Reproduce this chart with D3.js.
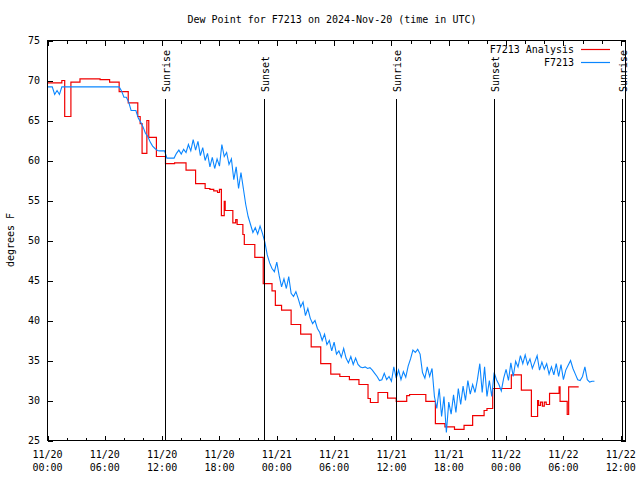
<!DOCTYPE html>
<html><head><meta charset="utf-8">
<script src="https://cdn.jsdelivr.net/npm/d3@7"></script>
<style>
body{margin:0;background:#fff}
svg{display:block}
text{font-family:"DejaVu Sans Mono","Liberation Mono",monospace;font-size:10px;fill:#000}
</style>
</head><body>
<svg id="c" width="640" height="480"></svg>
<script>
// ---------- data ----------
const title = "Dew Point for F7213 on 2024-Nov-20 (time in UTC)";
const yLabel = "degrees F";
const seriesNames = ["F7213 Analysis", "F7213"];
const seriesColors = ["#f00000", "#0a86ff"];
const yTicks = [25, 30, 35, 40, 45, 50, 55, 60, 65, 70, 75];
const startUTC = Date.UTC(2024, 10, 20, 0, 0);   // 11/20 00:00 UTC
const xEndHours = 60.5;
const sunEvents = ["Sunrise", "Sunset", "Sunrise", "Sunset", "Sunrise"];
const sunHours = [12.35, 22.64, 36.46, 46.71, 60.18];

// analysis series (hours since start, degrees F), drawn as steps
const redHours = [0, 1.5, 1.8, 2.45, 3.4, 5.5, 6.5, 7.5, 8.45, 9.45, 9.7, 9.9, 10.4, 10.6, 11.4,
  12.35, 13.3, 14.5, 15.5, 16.5, 17.0, 17.4, 17.8, 18.0, 18.2, 18.5, 18.6, 19.4, 19.7, 19.85,
  20.45, 20.6, 21.7, 22.58, 23.5, 23.85, 24.5, 25.5, 26.5, 27.6, 28.6, 29.65, 30.6, 31.6, 32.6,
  33.55, 33.8, 34.6, 35.6, 36.5, 37.6, 37.9, 39.6, 40.6, 41.6, 42.6, 43.6, 44.5, 45.7, 46.0,
  46.6, 48.55, 49.6, 50.65, 51.3, 51.4, 51.6, 51.8, 52.0, 52.2, 52.55, 53.55, 53.65, 54.4, 54.55, 55.6];
const redValues = [69.7, 70.0, 65.5, 69.8, 70.2, 70.1, 69.8, 68.6, 67.2, 65.5, 64.6, 60.9, 65.0, 62.9, 60.5,
  59.6, 59.7, 58.8, 57.1, 56.5, 56.4, 56.2, 56.0, 56.4, 53.1, 54.9, 53.75, 52.2, 52.6, 52.0,
  50.75, 49.5, 47.9, 44.6, 43.7, 41.9, 41.3, 39.5, 38.3, 36.7, 34.6, 33.3, 33.0, 32.6, 32.0,
  30.25, 29.75, 31.0, 30.3, 29.9, 30.6, 30.75, 29.9, 27.1, 26.7, 26.4, 26.9, 28.1, 28.75, 29.0,
  31.5, 33.2, 31.3, 28.0, 30.0, 29.4, 29.8, 29.3, 29.8, 29.5, 30.9, 31.7, 29.9, 28.25, 31.7, 31.7];

// observed series, one reading every 15 minutes from 11/20 00:00
const blueStartHour = 0, blueStepHours = 0.25;
const blueValues = [
  69.2, 69.2, 69.2, 68.25, 68.75, 68.25, 69.2,
  69.2, 69.2, 69.2, 69.2, 69.2, 69.2, 69.2, 69.2, 69.2, 69.2, 69.2, 69.2,
  69.2, 69.2, 69.2, 69.2, 69.2, 69.2, 69.2, 69.2, 69.2, 69.2, 69.2,
  69.2, 68.7, 67.9, 67.9, 67.3, 66.25, 66.25, 66.25, 65.3, 64.8, 64.2, 63.4,
  63.0, 62.3, 61.8, 61.5, 61.25, 61.2, 61.2, 61.2, 60.3, 60.3, 60.3, 60.3,
  60.9, 61.3, 60.8, 61.4, 61.0, 62.0, 61.2, 62.6, 61.3, 62.4,
  60.6, 61.6, 60.0, 60.9,  59.2, 60.4, 59.0, 60.2,  59.3, 62.0, 60.5, 61.0,
  59.5, 60.2, 57.6, 59.2,  56.5, 58.5, 56.5, 54.5,  53.0, 52.0, 51.0, 51.6,
  50.8, 51.8, 50.9, 49.8,  48.2, 47.2, 46.5, 46.1,  47.3, 45.6, 44.2, 45.2,
  44.0, 45.5, 43.4, 43.0,  43.6, 42.7, 41.7, 42.3,  40.6, 41.5, 40.3, 39.6,
  40.0, 39.0, 38.5, 37.5,  38.3, 37.0, 37.5, 36.2,  37.3, 35.8, 36.2, 35.4,
  36.5, 35.3, 34.7, 35.5,  34.5, 35.3, 34.5, 34.2,  34.1, 34.2, 34.0, 34.1,
  33.8, 33.4, 33.0, 32.5,  32.6, 33.4, 32.6, 33.0,  32.4, 34.2, 32.8, 33.8,
  32.6, 33.6, 32.9, 34.3,  35.2, 36.3, 36.0, 36.4,  35.8, 33.5, 32.8, 34.2,
  33.0, 34.0, 30.5, 29.0,  31.5, 28.0, 30.5, 26.0,  29.8, 28.3, 30.7, 28.5,
  31.5, 29.5, 31.8, 30.0,  32.5, 30.8, 32.0, 31.0,  32.6, 34.6, 31.0, 34.2,
  30.5, 32.5, 30.5, 33.5,  32.6, 32.0, 31.2, 32.8,  33.9, 32.5, 34.7, 33.0,
  34.9, 34.2, 35.6, 34.6,  35.7, 34.5, 35.2, 34.0,  34.8, 35.6, 33.8, 34.8,
  33.9, 34.6, 33.3, 34.2,  33.2, 34.6, 33.0, 34.5,  32.6, 33.8, 34.4, 35.0,
  34.0, 33.3, 32.6, 32.5,  33.0, 34.2, 32.6, 32.3,  32.4, 32.4];

// ---------- drawing ----------
const H = 3600 * 1000;
const toDate = h => new Date(startUTC + h * H);
const L = 47.5, R = 625.5, T = 40.5, B = 440.5;

const svg = d3.select("#c");
const x = d3.scaleUtc().domain([toDate(0), toDate(xEndHours)]).range([L, R]);
const y = d3.scaleLinear().domain([25, 75]).range([B, T]);

const majorX = d3.utcHour.every(6).range(toDate(0), toDate(xEndHours));
const minorX = d3.utcHour.every(2).range(toDate(0), toDate(xEndHours))
  .filter(d => d.getUTCHours() % 6 !== 0);

const fmtDate = d3.utcFormat("%m/%d"), fmtTime = d3.utcFormat("%H:%M");

// bottom axis, ticks pointing inward
svg.append("g").attr("transform", `translate(0,${B})`)
  .call(d3.axisBottom(x).tickValues(majorX).tickSizeInner(-5).tickSizeOuter(0).tickFormat(""));
svg.append("g").attr("transform", `translate(0,${B})`)
  .call(d3.axisBottom(x).tickValues(minorX).tickSizeInner(-3).tickSizeOuter(0).tickFormat(""));
// top mirror
svg.append("g").attr("transform", `translate(0,${T})`)
  .call(d3.axisTop(x).tickValues(majorX).tickSizeInner(-5).tickSizeOuter(0).tickFormat(""));
svg.append("g").attr("transform", `translate(0,${T})`)
  .call(d3.axisTop(x).tickValues(minorX).tickSizeInner(-3).tickSizeOuter(0).tickFormat(""));
// left and right
svg.append("g").attr("transform", `translate(${L},0)`)
  .call(d3.axisLeft(y).tickValues(yTicks).tickSizeInner(-5).tickSizeOuter(0).tickFormat(""));
svg.append("g").attr("transform", `translate(${R},0)`)
  .call(d3.axisRight(y).tickValues(yTicks).tickSizeInner(-5).tickSizeOuter(0).tickFormat(""));
svg.selectAll(".domain").remove();
svg.selectAll(".tick line").attr("stroke", "#000").attr("shape-rendering", "crispEdges");

// tick labels
const xl = svg.append("g");
majorX.forEach(d => {
  xl.append("text").attr("x", x(d)).attr("y", 457.5).attr("text-anchor", "middle").text(fmtDate(d));
  xl.append("text").attr("x", x(d)).attr("y", 471).attr("text-anchor", "middle").text(fmtTime(d));
});
svg.append("g").selectAll("text").data(yTicks).join("text")
  .attr("x", 40).attr("y", d => y(d) + 3.5).attr("text-anchor", "end").text(d => d);

// data clip
svg.append("clipPath").attr("id", "clip").append("rect")
  .attr("x", L).attr("y", T).attr("width", R - L).attr("height", B - T);

const stepLine = d3.line().x(d => x(d.t)).y(d => y(d.v)).curve(d3.curveStepAfter);
const plainLine = d3.line().x(d => x(d.t)).y(d => y(d.v)).curve(d3.curveLinear);
const redData = redHours.map((h, i) => ({t: toDate(h), v: redValues[i]}));
const blueData = blueValues.map((v, i) => ({t: toDate(blueStartHour + i * blueStepHours), v}));

const plot = svg.append("g").attr("clip-path", "url(#clip)");
plot.append("path").datum(redData).attr("d", stepLine)
  .attr("fill", "none").attr("stroke", seriesColors[0]).attr("stroke-width", 1.2);
plot.append("path").datum(blueData).attr("d", plainLine)
  .attr("fill", "none").attr("stroke", seriesColors[1]).attr("stroke-width", 1.1)
  .attr("stroke-linejoin", "miter");

// sunrise / sunset markers
sunHours.forEach((h, i) => {
  const px = Math.round(x(toDate(h))) + 0.5;
  svg.append("line").attr("x1", px).attr("x2", px).attr("y1", 99).attr("y2", B)
    .attr("stroke", "#000").attr("stroke-width", 1).attr("shape-rendering", "crispEdges");
  svg.append("text").attr("transform", `translate(${px + 4},92) rotate(-90)`)
    .attr("text-anchor", "start").text(sunEvents[i]);
});

// frame
svg.append("rect").attr("x", L).attr("y", T).attr("width", R - L).attr("height", B - T)
  .attr("fill", "none").attr("stroke", "#000").attr("stroke-width", 1).attr("shape-rendering", "crispEdges");

// legend
seriesNames.forEach((n, i) => {
  const yy = 49.5 + i * 13;
  svg.append("text").attr("x", 574).attr("y", yy + 3.5).attr("text-anchor", "end").text(n);
  svg.append("line").attr("x1", 581).attr("x2", 610).attr("y1", yy).attr("y2", yy)
    .attr("stroke", seriesColors[i]).attr("stroke-width", 1.2);
});

// title and y label
svg.append("text").attr("x", 332).attr("y", 23).attr("text-anchor", "middle").text(title);
svg.append("text").attr("transform", "translate(14,240) rotate(-90)")
  .attr("text-anchor", "middle").text(yLabel);
</script>
</body></html>
